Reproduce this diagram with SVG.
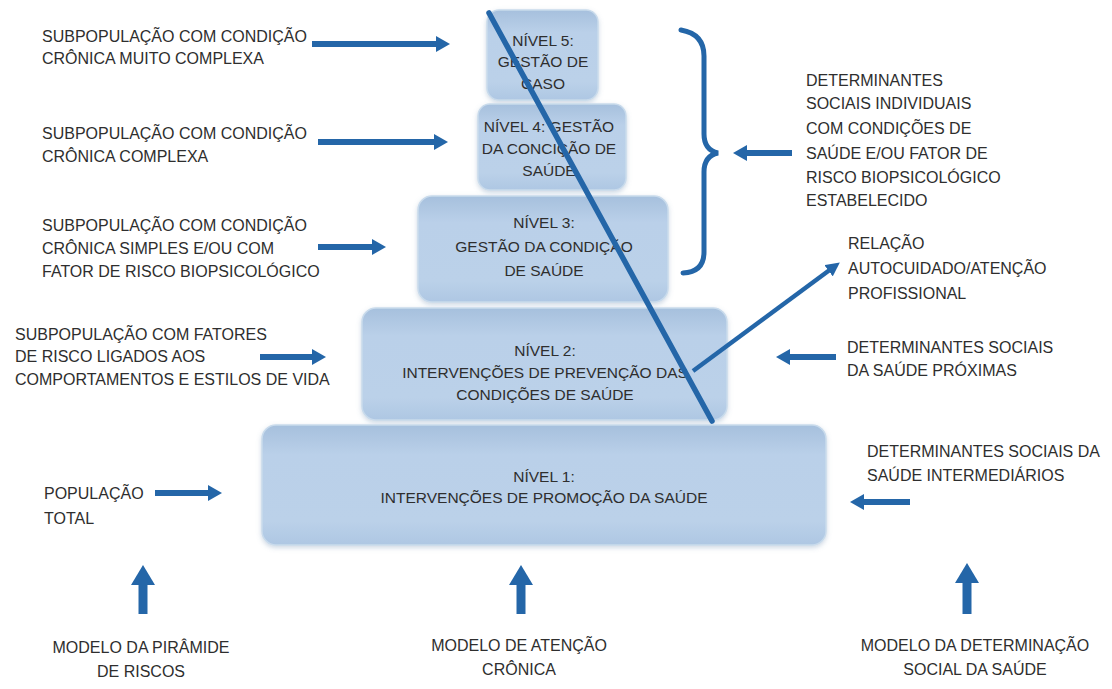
<svg xmlns="http://www.w3.org/2000/svg" width="1112" height="689" viewBox="0 0 1112 689">
<defs>
<style>
.t{font-family:"Liberation Sans",Arial,sans-serif;font-size:16px;fill:#2e2e2e;}
.b{font-family:"Liberation Sans",Arial,sans-serif;font-size:15.5px;fill:#2e2e2e;text-anchor:middle;}
.c{text-anchor:middle;}
.box{fill:url(#g);stroke:#c9dbec;stroke-width:1.5;filter:url(#sh);}
.ar{stroke:#2466a8;stroke-width:6;fill:none;marker-end:url(#hs);}
.up{stroke:#2466a8;stroke-width:9;fill:none;marker-end:url(#hl);}
.ln{stroke:#2466a8;stroke-width:5;fill:none;stroke-linecap:round;}
</style>
<linearGradient id="g" x1="0" y1="0" x2="0" y2="1">
<stop offset="0" stop-color="#a6c0dd"/>
<stop offset="0.25" stop-color="#bad0e9"/>
<stop offset="0.8" stop-color="#bbd1e9"/>
<stop offset="1" stop-color="#aec7e3"/>
</linearGradient>
<filter id="sh" x="-10%" y="-10%" width="120%" height="130%">
<feDropShadow dx="0" dy="2" stdDeviation="2.5" flood-color="#6f8fb0" flood-opacity="0.35"/>
</filter>
<marker id="hs" markerUnits="userSpaceOnUse" viewBox="0 0 14 16" markerWidth="14" markerHeight="16" refX="3" refY="8" orient="auto">
<path d="M0,0 L14,8 L0,16 z" fill="#2466a8"/>
</marker>
<marker id="hl" markerUnits="userSpaceOnUse" viewBox="0 0 20 24" markerWidth="20" markerHeight="24" refX="4" refY="12" orient="auto">
<path d="M0,0 L20,12 L0,24 z" fill="#2466a8"/>
</marker>
<marker id="hr" markerUnits="userSpaceOnUse" viewBox="0 0 14 14" markerWidth="14" markerHeight="14" refX="3" refY="7" orient="auto">
<path d="M0,0 L14,7 L0,14 z" fill="#2466a8"/>
</marker>
</defs>
<rect width="1112" height="689" fill="#ffffff"/>

<g id="nivel5">
<rect class="box" x="487" y="10" width="111" height="90" rx="12"/>
<text class="b" x="543" y="46">NÍVEL 5:</text>
<text class="b" x="543" y="67">GESTÃO DE</text>
<text class="b" x="543" y="89">CASO</text>
</g>
<g id="nivel4">
<rect class="box" x="478" y="104" width="148" height="86" rx="12"/>
<text class="b" x="549" y="132">NÍVEL 4: GESTÃO</text>
<text class="b" x="549" y="154">DA CONCIÇÃO DE</text>
<text class="b" x="549" y="176">SAÚDE</text>
</g>
<g id="nivel3">
<rect class="box" x="418" y="196" width="250" height="106" rx="14"/>
<text class="b" x="544" y="228">NÍVEL 3:</text>
<text class="b" x="544" y="252">GESTÃO DA CONDIÇÃO</text>
<text class="b" x="544" y="276">DE SAÚDE</text>
</g>
<g id="nivel2">
<rect class="box" x="362" y="308" width="365" height="112" rx="14"/>
<text class="b" x="545" y="356">NÍVEL 2:</text>
<text class="b" x="545" y="378">INTERVENÇÕES DE PREVENÇÃO DAS</text>
<text class="b" x="545" y="400">CONDIÇÕES DE SAÚDE</text>
</g>
<g id="nivel1">
<rect class="box" x="262" y="425" width="564" height="120" rx="14"/>
<text class="b" x="544" y="482">NÍVEL 1:</text>
<text class="b" x="544" y="503">INTERVENÇÕES DE PROMOÇÃO DA SAÚDE</text>
</g>

<g id="label-sub5">
<text class="t" x="42" y="42">SUBPOPULAÇÃO COM CONDIÇÃO</text>
<text class="t" x="42" y="64">CRÔNICA MUITO COMPLEXA</text>
</g>
<g id="label-sub4">
<text class="t" x="42" y="139">SUBPOPULAÇÃO COM CONDIÇÃO</text>
<text class="t" x="42" y="162">CRÔNICA COMPLEXA</text>
</g>
<g id="label-sub3">
<text class="t" x="42" y="231">SUBPOPULAÇÃO COM CONDIÇÃO</text>
<text class="t" x="42" y="254">CRÔNICA SIMPLES E/OU COM</text>
<text class="t" x="42" y="277">FATOR DE RISCO BIOPSICOLÓGICO</text>
</g>
<g id="label-sub2">
<text class="t" x="15" y="340">SUBPOPULAÇÃO COM FATORES</text>
<text class="t" x="15" y="362">DE RISCO LIGADOS AOS</text>
<text class="t" x="15" y="385">COMPORTAMENTOS E ESTILOS DE VIDA</text>
</g>
<g id="label-pop">
<text class="t" x="44" y="499">POPULAÇÃO</text>
<text class="t" x="44" y="524">TOTAL</text>
</g>
<g id="label-det-ind">
<text class="t" x="806" y="86">DETERMINANTES</text>
<text class="t" x="806" y="109">SOCIAIS INDIVIDUAIS</text>
<text class="t" x="806" y="134">COM CONDIÇÕES DE</text>
<text class="t" x="806" y="159">SAÚDE E/OU FATOR DE</text>
<text class="t" x="806" y="183">RISCO BIOPSICOLÓGICO</text>
<text class="t" x="806" y="206">ESTABELECIDO</text>
</g>
<g id="label-relacao">
<text class="t" x="848" y="249">RELAÇÃO</text>
<text class="t" x="848" y="274">AUTOCUIDADO/ATENÇÃO</text>
<text class="t" x="848" y="299">PROFISSIONAL</text>
</g>
<g id="label-det-prox">
<text class="t" x="847" y="353">DETERMINANTES SOCIAIS</text>
<text class="t" x="847" y="376">DA SAÚDE PRÓXIMAS</text>
</g>
<g id="label-det-int">
<text class="t" x="867" y="457">DETERMINANTES SOCIAIS DA</text>
<text class="t" x="867" y="481">SAÚDE INTERMEDIÁRIOS</text>
</g>
<g id="label-mod-piramide">
<text class="t c" x="141" y="653">MODELO DA PIRÂMIDE</text>
<text class="t c" x="141" y="677">DE RISCOS</text>
</g>
<g id="label-mod-atencao">
<text class="t c" x="519" y="651">MODELO DE ATENÇÃO</text>
<text class="t c" x="519" y="675">CRÔNICA</text>
</g>
<g id="label-mod-det">
<text class="t c" x="975" y="651">MODELO DA DETERMINAÇÃO</text>
<text class="t c" x="975" y="675">SOCIAL DA SAÚDE</text>
</g>

<g id="connectors">
<line class="ar" x1="312" y1="44" x2="439" y2="44"/>
<line class="ar" x1="318" y1="142" x2="437" y2="142"/>
<line class="ar" x1="318" y1="247" x2="375" y2="247"/>
<line class="ar" x1="260" y1="357" x2="315" y2="357"/>
<line class="ar" x1="155" y1="493" x2="211" y2="493"/>
<line class="ar" x1="792" y1="153" x2="744" y2="153"/>
<line class="ar" x1="836" y1="357" x2="787" y2="357"/>
<line class="ar" x1="910" y1="502" x2="861" y2="502"/>
<line class="up" x1="143" y1="614" x2="143" y2="581"/>
<line class="up" x1="521" y1="614" x2="521" y2="581"/>
<line class="up" x1="967" y1="614" x2="967" y2="579"/>
<line class="ln" x1="489" y1="13" x2="712" y2="421" style="stroke-width:5.5"/>
<line class="ln" x1="693" y1="371" x2="831" y2="269" style="stroke-width:4.5;marker-end:url(#hr);stroke-linecap:butt"/>
<path class="ln" d="M681,30 Q704,34 704,56 L704,134 Q704,150 718,153 Q704,156 704,172 L704,252 Q704,272 683,273"/>
</g>
</svg>
